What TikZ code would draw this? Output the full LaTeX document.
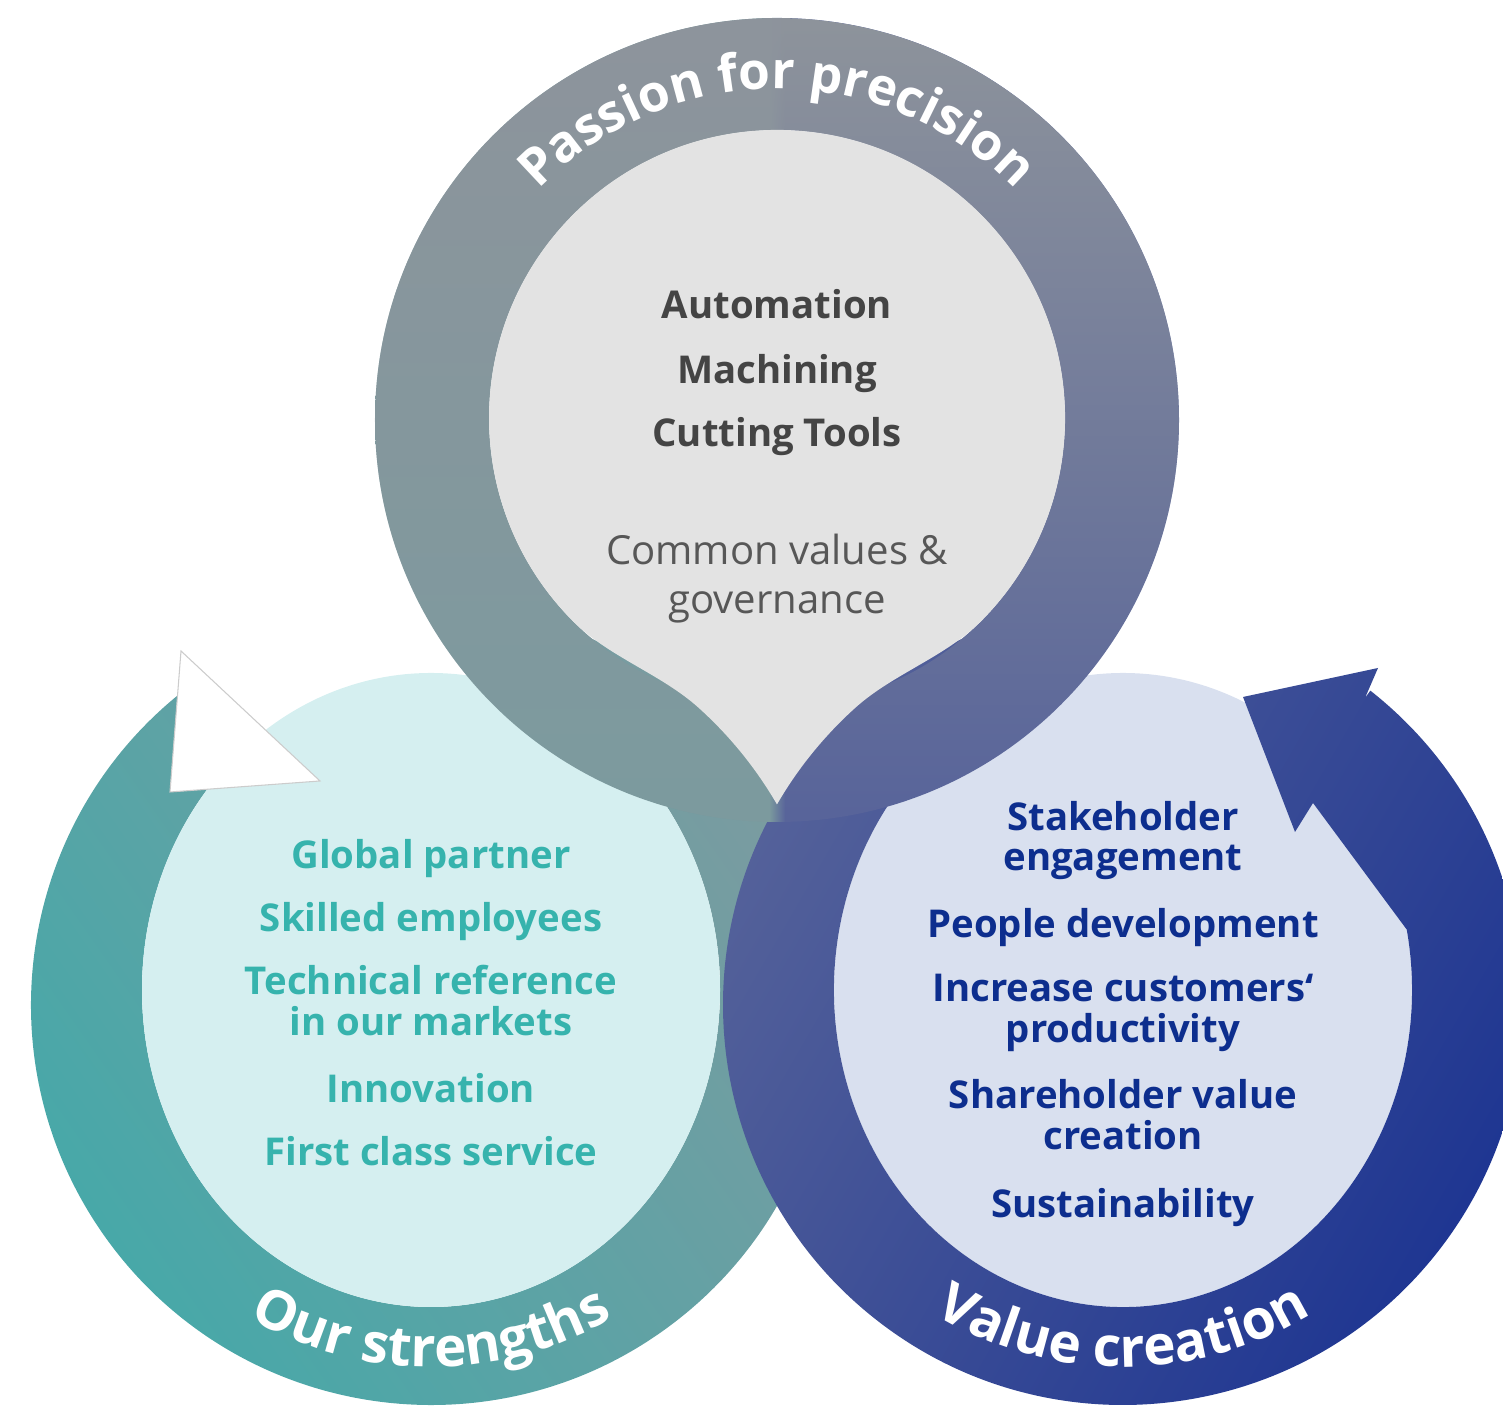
\documentclass[tikz,border=0pt]{standalone}
\usepackage{fontspec}
\setsansfont{Open Sans}
\usepackage{tikz}
\usetikzlibrary{positioning,decorations.text,fadings}

\definecolor{teall}{HTML}{44A9A9}
\definecolor{tealr}{HTML}{7C9BA0}
\definecolor{bluel}{HTML}{55629A}
\definecolor{bluer}{HTML}{1B3391}
\definecolor{bandl}{HTML}{7C9B9F}
\definecolor{bandr}{HTML}{58649A}
\definecolor{bandtop}{HTML}{8E949C}
\definecolor{cyanin}{HTML}{D5EFF0}
\definecolor{lavin}{HTML}{D9E0EF}
\definecolor{lightin}{HTML}{E3E3E3}
\definecolor{tealtxt}{HTML}{36B3AD}
\definecolor{bluetxt}{HTML}{0D2E8E}
\definecolor{graytxt}{HTML}{444444}

\pgfdeclarehorizontalshading{tealband}{100bp}{color(0bp)=(teall); color(25bp)=(teall); color(75bp)=(tealr); color(100bp)=(tealr)}
\pgfdeclarehorizontalshading{blueband}{100bp}{color(0bp)=(bluel); color(25bp)=(bluel); color(75bp)=(bluer); color(100bp)=(bluer)}
\pgfdeclarehorizontalshading{topband}{100bp}{color(0bp)=(bandl); color(49.5bp)=(bandl); color(50.5bp)=(bandr); color(100bp)=(bandr)}

\newcommand{\arcfont}{\sffamily\bfseries\fontsize{14.6}{17}\selectfont}
\newcommand{\arcfontb}{\sffamily\bfseries\fontsize{15.6}{18}\selectfont}

\tikzset{
  toptxt/.style={font=\sffamily\bfseries\fontsize{10.9}{13}\selectfont,text=graytxt,text height=8.5pt,text depth=2.5pt,inner sep=0pt},
  topreg/.style={font=\sffamily\fontsize{11.4}{13}\selectfont,text=graytxt!90,text height=8.5pt,text depth=2.5pt,inner sep=0pt},
  lefttxt/.style={font=\sffamily\bfseries\fontsize{10.9}{13}\selectfont,text=tealtxt,text height=8.5pt,text depth=2.5pt,inner sep=0pt},
  righttxt/.style={font=\sffamily\bfseries\fontsize{10.9}{13}\selectfont,text=bluetxt,text height=8.5pt,text depth=2.5pt,inner sep=0pt},
  ringtxt/.style={decorate,decoration={text along path,text align=center,text color=white}}
}

\begin{document}
\begin{tikzpicture}[x=0.01cm,y=0.01cm,node distance=0.6cm,on grid]
\useasboundingbox (0,0) rectangle (1503,1413);
\clip (0,0) rectangle (1503,1413);

% left ring, ends under the white head
\shade[shading=tealband,shading angle=35] ({431+400*cos(127)},{408+400*sin(127)}) arc[start angle=127,end angle=430,radius=400]
  -- ({431+289*cos(70)},{423+317*sin(70)}) arc[start angle=70,end angle=-233,x radius=289,y radius=317] -- cycle;
\fill[cyanin] (431,423) ellipse [x radius=289,y radius=317];
\fill[lavin] (1123,423) ellipse [x radius=289,y radius=317];

% right ring with its head
\coordinate (bin) at (1313,610);
\coordinate (bbase) at (1295,581);
\coordinate (btip) at (1243,716);
\coordinate (bout) at (1378,745);
\coordinate (bnotch) at (1365,715);
\shade[shading=blueband,shading angle=-30] ({1123+400*cos(51.8)},{408+400*sin(51.8)}) arc[start angle=51.8,end angle=-250,radius=400]
  -- ({1123+289*cos(110)},{423+317*sin(110)}) arc[start angle=110,end angle=371,x radius=289,y radius=317]
  -- (bin) -- (bbase) -- (btip) -- (bout) -- (bnotch) -- cycle;

% top ring and its inner drop
\shade[shading=topband,even odd rule] (777,993) circle (402) (777,995) circle (288);
\fill[bandtop,even odd rule,path fading=south] (777,993) circle (402) (777,995) circle (288);
\coordinate (droptip) at (776.9,608.7);
\fill[lightin] (droptip) arc[start angle=30.12,end angle=48,radius=400]
  .. controls (661.4,738.8) and (608.8,756.0) .. (573.4,791.4)
  arc[start angle=225,end angle=-45,radius=288]
  .. controls (945.2,756.0) and (892.6,738.8) .. (855.4,705.3)
  arc[start angle=132,end angle=149.88,radius=400] -- cycle;

% white head of the left ring
\coordinate (ltop) at (181,762);
\coordinate (lbot) at (170,621);
\coordinate (ltip) at (320,632);
\filldraw[fill=white,draw=black!20,line width=0.3pt] (ltop) -- (lbot) -- (ltip) -- cycle;

% ring labels
\path[ringtxt,decoration={text={|\arcfont|Passion for precision}}] ({777+331*cos(172)},{993+331*sin(172)}) arc[start angle=172,end angle=8,radius=331];
\path[ringtxt,decoration={text={|\arcfontb|Our strengths}}] ({431+362*cos(220)},{408+362*sin(220)}) arc[start angle=220,end angle=320,radius=362];
\path[ringtxt,decoration={text={|\arcfontb|Value creation}}] ({1123+362*cos(220)},{408+362*sin(220)}) arc[start angle=220,end angle=320,radius=362];

% top circle
\node[toptxt](au) at (777,1105) {Automation};
\node[toptxt](ma)[below=0.65cm of au] {Machining};
\node[toptxt](ct)[below=0.63cm of ma] {Cutting Tools};
\node[topreg](cv)[below=1.18cm of ct] {Common values \&};
\node[topreg](go)[below=0.49cm of cv] {governance};

% left circle
\node[lefttxt](gp) at (431,555) {Global partner};
\node[lefttxt](se)[below=0.63cm of gp] {Skilled employees};
\node[lefttxt](tr)[below=0.63cm of se] {Technical reference};
\node[lefttxt](im)[below=0.41cm of tr] {in our markets};
\node[lefttxt](in)[below=0.67cm of im] {Innovation};
\node[lefttxt](fc)[below=0.63cm of in] {First class service};

% right circle
\node[righttxt](sh) at (1123,593) {Stakeholder};
\node[righttxt](en)[below=0.40cm of sh] {engagement};
\node[righttxt](pd)[below=0.67cm of en] {People development};
\node[righttxt](ic)[below=0.64cm of pd] {Increase customers‘};
\node[righttxt](pr)[below=0.41cm of ic] {productivity};
\node[righttxt](sv)[below=0.66cm of pr] {Shareholder value};
\node[righttxt](cr)[below=0.41cm of sv] {creation};
\node[righttxt](su)[below=0.68cm of cr] {Sustainability};
\end{tikzpicture}
\end{document}
